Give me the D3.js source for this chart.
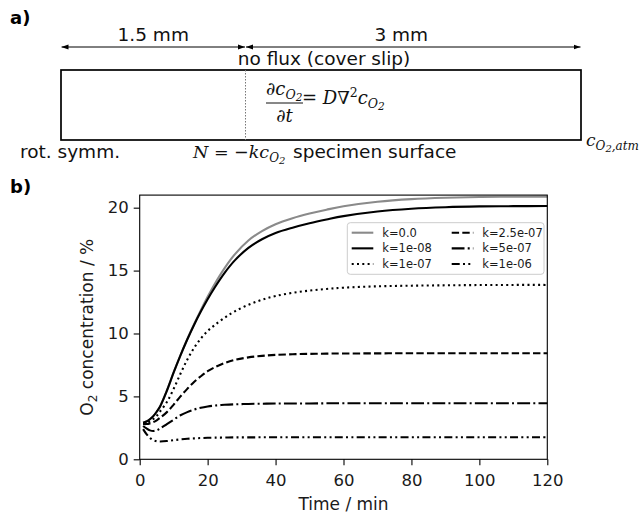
<!DOCTYPE html>
<html>
<head>
<meta charset="utf-8">
<script src="https://cdn.jsdelivr.net/npm/d3@7"></script>
<style>
  body { margin: 0; background: #fff; }
  svg { display: block; }
</style>
</head>
<body>
<svg id="fig" width="643" height="513"></svg>
<script>
// Simulated O2 concentration in the chamber for several surface consumption rates k
const times = [1, 2, 3, 4, 5, 6, 8, 10, 12, 14, 16, 18, 20, 22, 25, 28, 32, 36, 40, 45, 50, 55, 60, 70, 80, 90, 100, 110, 120];
const o2K0      = [2.9, 3.0, 3.18, 3.43, 3.78, 4.2, 5.45, 6.9, 8.26, 9.54, 10.73, 11.86, 12.92, 13.9, 15.2, 16.29, 17.39, 18.14, 18.69, 19.16, 19.53, 19.84, 20.11, 20.47, 20.68, 20.79, 20.85, 20.87, 20.88];
const o2K1e8    = [2.9, 3.0, 3.18, 3.43, 3.78, 4.2, 5.45, 6.9, 8.26, 9.52, 10.68, 11.74, 12.72, 13.62, 14.82, 15.81, 16.81, 17.49, 17.99, 18.41, 18.76, 19.06, 19.33, 19.7, 19.92, 20.04, 20.1, 20.12, 20.13];
const o2K1e7    = [2.85, 2.9, 3.0, 3.2, 3.45, 3.8, 4.55, 5.6, 6.8, 7.92, 8.85, 9.6, 10.2, 10.65, 11.25, 11.76, 12.28, 12.68, 12.98, 13.23, 13.41, 13.54, 13.64, 13.75, 13.8, 13.83, 13.85, 13.86, 13.86];
const o2K2_5e7  = [2.8, 2.8, 2.85, 2.95, 3.1, 3.3, 3.75, 4.35, 5.0, 5.6, 6.15, 6.6, 7.0, 7.3, 7.65, 7.9, 8.1, 8.22, 8.3, 8.35, 8.38, 8.4, 8.41, 8.42, 8.43, 8.43, 8.43, 8.43, 8.43];
const o2K5e7    = [2.65, 2.45, 2.3, 2.25, 2.3, 2.45, 2.8, 3.15, 3.5, 3.75, 3.95, 4.1, 4.2, 4.27, 4.33, 4.37, 4.4, 4.42, 4.43, 4.44, 4.44, 4.45, 4.45, 4.45, 4.45, 4.45, 4.45, 4.45, 4.45];
const o2K1e6    = [2.4, 2.0, 1.7, 1.52, 1.44, 1.42, 1.45, 1.52, 1.58, 1.63, 1.66, 1.69, 1.71, 1.72, 1.73, 1.74, 1.74, 1.75, 1.75, 1.75, 1.75, 1.75, 1.75, 1.75, 1.75, 1.75, 1.75, 1.75, 1.75];
const seriesLabels = ["k=0.0", "k=1e-08", "k=1e-07", "k=2.5e-07", "k=5e-07", "k=1e-06"];
const xTicks = [0, 20, 40, 60, 80, 100, 120];
const yTicks = [0, 5, 10, 15, 20];

const seriesValues = [o2K0, o2K1e8, o2K1e7, o2K2_5e7, o2K5e7, o2K1e6];
const seriesStyle = [
  { color: "#8a8a8a", dash: null },
  { color: "#000", dash: null },
  { color: "#000", dash: "2,3.3" },
  { color: "#000", dash: "7.4,3.2" },
  { color: "#000", dash: "12.8,3.2,2,3.2" },
  { color: "#000", dash: "8,3.3,2,3.3,2,3.3" }
];

const svg = d3.select("#fig");
const sans = "'DejaVu Sans', Verdana, sans-serif";
const serif = "'DejaVu Serif', 'Liberation Serif', serif";
const labelSize = 18.5;

/* ---------- a) geometry sketch ---------- */
const ga = svg.append("g");
ga.append("text").attr("x", 10).attr("y", 24).attr("font-family", sans)
  .attr("font-weight", "bold").attr("font-size", 18).text("a)");

// radial position (mm) -> pixel
const rx = d3.scaleLinear().domain([0, 1.5, 4.5]).range([61, 245.5, 581]);
const boxTop = 70, boxBottom = 140, arrowY = 47;

const defs = svg.append("defs");
defs.append("marker").attr("id", "ah").attr("viewBox", "0 0 10 10")
  .attr("refX", 10).attr("refY", 5).attr("markerWidth", 7).attr("markerHeight", 7)
  .attr("markerUnits", "userSpaceOnUse").attr("orient", "auto-start-reverse")
  .append("path").attr("d", "M0,1.5 L10,5 L0,8.5 Z").attr("fill", "#000");

[[0, 1.5], [1.5, 4.5]].forEach(([a, b]) => {
  ga.append("line").attr("x1", rx(a) + 0.5).attr("x2", rx(b) - 0.5)
    .attr("y1", arrowY).attr("y2", arrowY).attr("stroke", "#000").attr("stroke-width", 1)
    .attr("marker-start", "url(#ah)").attr("marker-end", "url(#ah)");
});
ga.append("text").attr("x", (rx(0) + rx(1.5)) / 2).attr("y", 41).attr("text-anchor", "middle")
  .attr("font-family", sans).attr("font-size", labelSize).attr("fill", "#111").text("1.5 mm");
ga.append("text").attr("x", (rx(1.5) + rx(4.5)) / 2 - 12).attr("y", 41).attr("text-anchor", "middle")
  .attr("font-family", sans).attr("font-size", labelSize).attr("fill", "#111").text("3 mm");
ga.append("text").attr("x", 324).attr("y", 65).attr("text-anchor", "middle")
  .attr("font-family", sans).attr("font-size", labelSize).attr("fill", "#111").text("no flux (cover slip)");

ga.append("rect").attr("x", rx(0)).attr("y", boxTop).attr("width", rx(4.5) - rx(0))
  .attr("height", boxBottom - boxTop).attr("fill", "none").attr("stroke", "#000").attr("stroke-width", 1.7);
ga.append("line").attr("x1", rx(1.5)).attr("x2", rx(1.5)).attr("y1", boxTop).attr("y2", boxBottom)
  .attr("stroke", "#777").attr("stroke-width", 1).attr("stroke-dasharray", "1.5,1.5");

// diffusion equation
const eq = ga.append("g").attr("font-family", serif).attr("font-style", "italic").attr("fill", "#111");
const num = eq.append("text").attr("x", 266).attr("y", 95).attr("font-size", 18);
num.append("tspan").text("∂c");
num.append("tspan").attr("font-size", 12.5).attr("dy", 4).text("O");
num.append("tspan").attr("font-size", 10.5).attr("dy", 2).text("2");
eq.append("line").attr("x1", 266).attr("x2", 303).attr("y1", 103).attr("y2", 103)
  .attr("stroke", "#111").attr("stroke-width", 1);
eq.append("text").attr("x", 284.5).attr("y", 122).attr("font-size", 18).attr("text-anchor", "middle").text("∂t");
const rhs = eq.append("text").attr("x", 302).attr("y", 104).attr("font-size", 18);
rhs.append("tspan").attr("font-style", "normal").text("= ");
rhs.append("tspan").text("D∇");
rhs.append("tspan").attr("font-style", "normal").attr("font-size", 12.5).attr("dy", -7).text("2");
rhs.append("tspan").attr("dy", 7).text("c");
rhs.append("tspan").attr("font-size", 12.5).attr("dy", 4).text("O");
rhs.append("tspan").attr("font-size", 10.5).attr("dy", 2).text("2");

const atm = ga.append("text").attr("x", 586).attr("y", 146).attr("font-family", serif)
  .attr("font-style", "italic").attr("font-size", 17).attr("fill", "#111");
atm.append("tspan").text("c");
atm.append("tspan").attr("font-size", 12).attr("dy", 4).text("O");
atm.append("tspan").attr("font-size", 10).attr("dy", 2).text("2");
atm.append("tspan").attr("font-size", 12).attr("dy", -2).text(",atm");

ga.append("text").attr("x", 20).attr("y", 158).attr("font-family", sans).attr("font-size", labelSize)
  .attr("fill", "#111").text("rot. symm.");
const flux = ga.append("text").attr("x", 193).attr("y", 158).attr("font-family", serif)
  .attr("font-style", "italic").attr("font-size", 17.5).attr("fill", "#111");
flux.append("tspan").text("N");
flux.append("tspan").attr("font-style", "normal").text(" = −");
flux.append("tspan").text("kc");
flux.append("tspan").attr("font-size", 12).attr("dy", 4).text("O");
flux.append("tspan").attr("font-size", 10).attr("dy", 2).text("2");
ga.append("text").attr("x", 293).attr("y", 158).attr("font-family", sans).attr("font-size", labelSize)
  .attr("fill", "#111").text("specimen surface");

/* ---------- b) concentration over time ---------- */
svg.append("text").attr("x", 10).attr("y", 193).attr("font-family", sans)
  .attr("font-weight", "bold").attr("font-size", 18).text("b)");

const plot = { left: 139.7, right: 547.3, top: 195.1, bottom: 459.3 };
const x = d3.scaleLinear().domain([0, 120]).range([plot.left, plot.right]);
const y = d3.scaleLinear().domain([0, 21]).range([plot.bottom, plot.top]);

const gb = svg.append("g");
const line = d3.line().x((d, i) => x(times[i])).y(d => y(d)).curve(d3.curveCatmullRom.alpha(0.5));

seriesValues.forEach((vals, i) => {
  gb.append("path").datum(vals).attr("d", line).attr("fill", "none")
    .attr("stroke", seriesStyle[i].color).attr("stroke-width", 2.1)
    .attr("stroke-dasharray", seriesStyle[i].dash);
});

gb.append("rect").attr("x", plot.left).attr("y", plot.top)
  .attr("width", plot.right - plot.left).attr("height", plot.bottom - plot.top)
  .attr("fill", "none").attr("stroke", "#000").attr("stroke-width", 1.1);

const xAxis = gb.append("g").attr("transform", `translate(0,${plot.bottom})`)
  .call(d3.axisBottom(x).tickValues(xTicks).tickSize(6).tickPadding(9).tickSizeOuter(0));
const yAxis = gb.append("g").attr("transform", `translate(${plot.left},0)`)
  .call(d3.axisLeft(y).tickValues(yTicks).tickSize(6).tickPadding(5).tickSizeOuter(0));
[xAxis, yAxis].forEach(a => {
  a.select(".domain").remove();
  a.selectAll(".tick line").attr("stroke", "#000").attr("stroke-width", 1.1);
  a.selectAll(".tick text").attr("font-family", sans).attr("font-size", 16.5).attr("fill", "#1a1a1a");
});

gb.append("text").attr("x", (plot.left + plot.right) / 2).attr("y", 510)
  .attr("text-anchor", "middle").attr("font-family", sans).attr("font-size", 17)
  .attr("fill", "#1a1a1a").text("Time / min");
const yl = gb.append("text").attr("transform", `translate(93,${(plot.top + plot.bottom) / 2}) rotate(-90)`)
  .attr("text-anchor", "middle").attr("font-family", sans).attr("font-size", 17).attr("fill", "#1a1a1a");
yl.append("tspan").text("O");
yl.append("tspan").attr("font-size", 12).attr("dy", 4).text("2");
yl.append("tspan").attr("dy", -4).text(" concentration / %");

// legend, two columns filled top to bottom
const leg = gb.append("g");
leg.append("rect").attr("x", 347.3).attr("y", 222.7).attr("width", 196.7).attr("height", 51.6)
  .attr("rx", 3).attr("fill", "#fff").attr("fill-opacity", 0.8)
  .attr("stroke", "#cccccc").attr("stroke-width", 1);
seriesLabels.forEach((lab, i) => {
  const col = Math.floor(i / 3), row = i % 3;
  const x0 = 351.7 + col * 100, yc = 232.7 + row * 15.65;
  leg.append("line").attr("x1", x0).attr("x2", x0 + 21.6).attr("y1", yc).attr("y2", yc)
    .attr("stroke", seriesStyle[i].color).attr("stroke-width", 2.1)
    .attr("stroke-dasharray", seriesStyle[i].dash);
  leg.append("text").attr("x", x0 + 30.6).attr("y", yc + 4).attr("font-family", sans)
    .attr("font-size", 11.5).attr("fill", "#1a1a1a").text(lab);
});
</script>
</body>
</html>
